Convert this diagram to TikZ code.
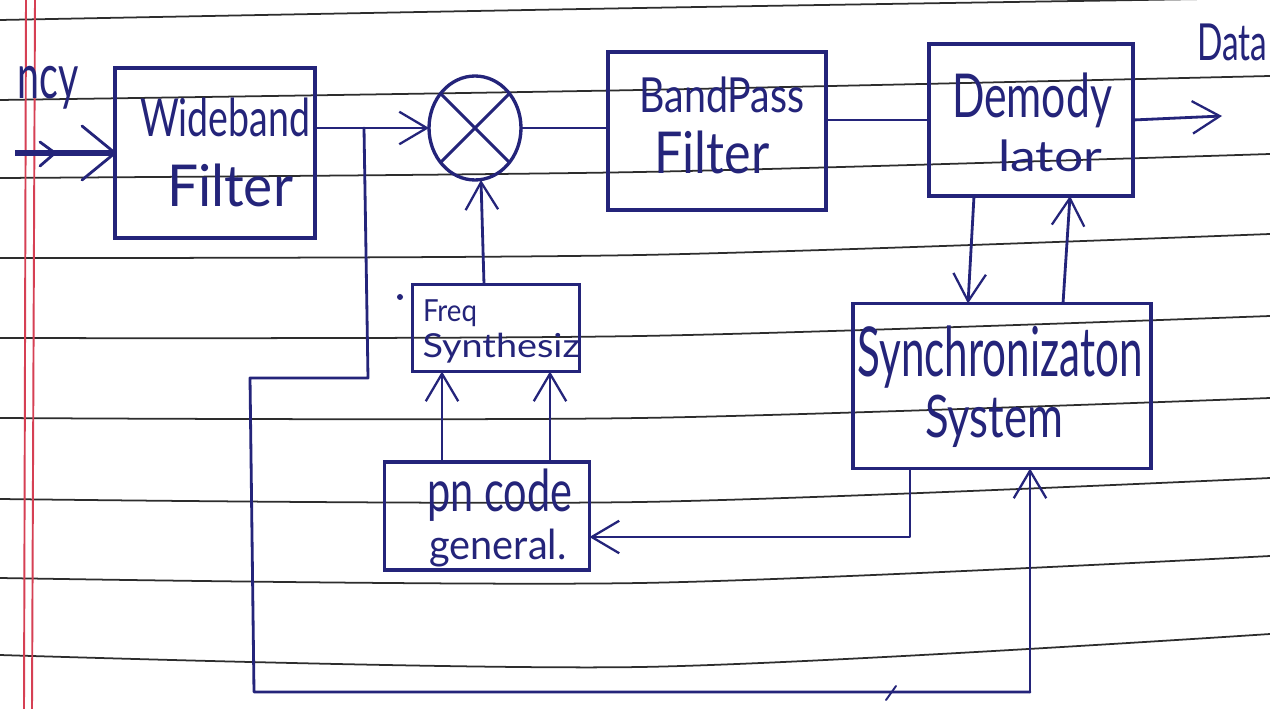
\documentclass[tikz,border=0pt]{standalone}
\usepackage{fontspec}
\setmainfont{Lato}
\usetikzlibrary{arrows.meta,calc,shapes.geometric}
\definecolor{ink}{RGB}{36,36,122}
\definecolor{rulecol}{RGB}{45,45,45}
\definecolor{margincol}{RGB}{214,64,84}
\newcommand{\hw}[3]{\resizebox*{#1}{#2}{#3}}
\begin{document}
\begin{tikzpicture}[x=0.02cm,y=-0.02cm,
  box/.style={draw=ink,line width=1.9pt,inner sep=0pt,outer sep=0pt,rectangle},
  lbl/.style={text=ink,inner sep=0pt,outer sep=0pt},
  conn/.style={draw=ink,line width=1.6pt,line cap=round,line join=round},
  arr/.style={conn,-{Straight Barb[length=0.55cm,width=0.65cm,line width=1.3pt]}},
  ruled/.style={draw=rulecol,line width=1pt},
  marg/.style={draw=margincol,line width=1.1pt}]
\useasboundingbox (0,0) rectangle (1270,709);
\clip (0,0) rectangle (1270,709);
\fill[white] (0,0) rectangle (1270,709);
% ruled lines
\draw[ruled] plot[smooth] coordinates {(0,20) (640,8) (1270,-2)};
\draw[ruled] plot[smooth] coordinates {(0,100) (640,90) (1270,76)};
\draw[ruled] plot[smooth] coordinates {(0,178) (640,172) (1270,154)};
\draw[ruled] plot[smooth] coordinates {(0,258) (640,255) (1270,234)};
\draw[ruled] plot[smooth] coordinates {(0,338) (640,336) (1270,316)};
\draw[ruled] plot[smooth] coordinates {(0,418) (640,418) (1270,398)};
\draw[ruled] plot[smooth] coordinates {(0,499) (640,502) (1270,478)};
\draw[ruled] plot[smooth] coordinates {(0,578) (640,583) (1270,556)};
\draw[ruled] plot[smooth] coordinates {(0,655) (640,667) (1270,634)};
% margin
\draw[marg] (26,0) -- (24,709);
\draw[marg] (35,0) -- (32,709);

% blocks
\node[box,minimum width=4.0cm,minimum height=3.4cm] (wb) at (215,153) {};
\node[box,ellipse,minimum width=1.84cm,minimum height=2.08cm] (mix) at (475,128) {};
\node[box,minimum width=4.36cm,minimum height=3.16cm] (bp) at (717,131) {};
\node[box,minimum width=4.08cm,minimum height=3.04cm] (dem) at (1031,120) {};
\node[box,minimum width=5.96cm,minimum height=3.3cm] (sync) at (1002,386) {};
\node[box,minimum width=3.34cm,minimum height=1.74cm] (fs) at (496,328) {};
\node[box,minimum width=4.1cm,minimum height=2.16cm] (pn) at (487,516) {};
\draw[conn,line width=1.7pt] (mix.45) -- (mix.225);
\draw[conn,line width=1.7pt] (mix.135) -- (mix.315);

% texts
\node[lbl] (tncy) at (48,88) {\hw{1.22cm}{0.86cm}{ncy}};
\node[lbl] (twb1) at (225,117) {\hw{3.4cm}{0.78cm}{Wideband}};
\node[lbl] (twb2) at (230,185) {\hw{2.52cm}{0.86cm}{Filter}};
\node[lbl] (tbp1) at (722,95) {\hw{3.3cm}{0.72cm}{BandPass}};
\node[lbl] (tbp2) at (712,152) {\hw{2.3cm}{0.86cm}{Filter}};
\node[lbl] (tdm1) at (1032,100) {\hw{3.2cm}{1.1cm}{Demody}};
\node[lbl] (tdm2) at (1050,156) {\hw{2.08cm}{0.64cm}{lator}};
\node[lbl] (tdata) at (1232,42) {\hw{1.4cm}{0.74cm}{Data}};
\node[lbl] (tfs1) at (450,313) {\hw{1.08cm}{0.54cm}{Freq}};
\node[lbl] (tfs2) at (501,348) {\hw{3.14cm}{0.6cm}{Synthesiz}};
\node[lbl] (tpn1) at (500,495) {\hw{2.9cm}{1.05cm}{pn code}};
\node[lbl] (tpn2) at (498,548) {\hw{2.74cm}{0.76cm}{general.}};
\node[lbl] (tsy1) at (1000,357) {\hw{5.7cm}{1.25cm}{Synchronizaton}};
\node[lbl] (tsy2) at (994,421) {\hw{2.76cm}{1.05cm}{System}};

% input
\coordinate (in) at (15,153);
\draw[conn,line width=3.6pt,line cap=butt] (in) -- (wb.west);
\draw[conn] (82,126) -- (wb.west) -- (82,180);
\draw[conn] (40,142) -- (55,153) -- (40,166);

% wideband -> mixer
\draw[arr] (wb.east |- mix.west) -- (mix.west);
\coordinate (j1) at (364,128);
\coordinate (c1) at (368,378);
\coordinate (c2) at (250,378);
\coordinate (c3) at (254,692);
\coordinate (c4) at (1030,692);
\draw[conn] (j1) -- (c1) -- (c2) -- (c3) -- (c4);
\draw[arr] (c4) -- (c4 |- sync.south);
\draw[conn,line width=1.1pt] (886,700) -- (896,686);

% mixer -> bandpass -> demod -> data
\draw[conn] (mix.east) -- (mix.east -| bp.west);
\draw[conn] (bp.east |- dem.west) -- (dem.west);
\coordinate (out) at (1222,116);
\draw[arr] (dem.east) -- (out);

% demod <-> sync
\draw[arr] ($(dem.south)+(-57,0)$) -- ($(sync.north)+(-34,0)$);
\draw[arr] ($(sync.north)+(61,0)$) -- ($(dem.south)+(39,0)$);

% sync -> pn
\coordinate (s0) at ($(sync.south)+(-92,0)$);
\coordinate (c5) at (912,537);
\draw[arr] (s0) -- (s0 |- c5) -- (pn.east |- c5);

% pn -> freq synth
\draw[arr] ($(pn.north)+(-45,0)$) -- ($(fs.south)+(-54,0)$);
\draw[arr] ($(pn.north)+(63,0)$) -- ($(fs.south)+(54,0)$);

% freq synth -> mixer
\draw[arr] ($(fs.north)+(-12,0)$) -- ($(mix.south)+(6,0)$);
\fill[ink] (400,297) circle (3);
\end{tikzpicture}
\end{document}
